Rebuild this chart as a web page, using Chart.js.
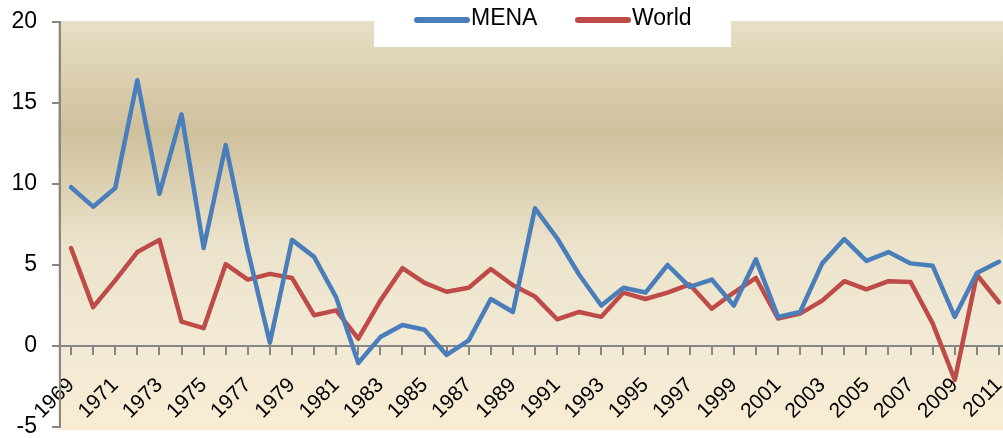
<!DOCTYPE html>
<html>
<head>
<meta charset="utf-8">
<script src="https://cdn.jsdelivr.net/npm/chart.js@4.4.1/dist/chart.umd.min.js"></script>
<style>
	html, body { margin: 0; padding: 0; background: #ffffff; overflow: hidden; }
	#wrap { position: relative; width: 1012px; height: 438px; }
</style>
</head>
<body>
<div id="wrap"><canvas id="growth" width="1012" height="438"></canvas></div>
<script>
// years on the x axis
const years = [];
for (let y = 1969; y <= 2011; y++) { years.push(String(y)); }

// annual growth
const menaValues = [
	9.8, 8.6, 9.75, 16.4, 9.4, 14.3, 6.05, 12.4, 5.9, 0.2,
	6.55, 5.5, 3.0, -1.05, 0.55, 1.3, 1.0, -0.55, 0.35, 2.9,
	2.1, 8.5, 6.65, 4.4, 2.5, 3.6, 3.3, 5.0, 3.65, 4.1,
	2.5, 5.35, 1.8, 2.1, 5.1, 6.6, 5.25, 5.8, 5.1, 4.95,
	1.8, 4.5, 5.2
];
const worldValues = [
	6.05, 2.4, 4.05, 5.8, 6.55, 1.5, 1.1, 5.05, 4.1, 4.45,
	4.2, 1.9, 2.2, 0.45, 2.8, 4.8, 3.9, 3.35, 3.6, 4.75,
	3.75, 3.05, 1.65, 2.1, 1.8, 3.3, 2.9, 3.3, 3.8, 2.3,
	3.3, 4.2, 1.7, 2.0, 2.8, 4.0, 3.5, 4.0, 3.95, 1.4,
	-2.1, 4.4, 2.7
];

const seriesLabels = ['MENA', 'World'];
const seriesColors = ['#4a7ebb', '#be4b48'];
const yTicks = [-5, 0, 5, 10, 15, 20];

const axisGray = '#868686';
const fontFamily = '"Liberation Sans", Arial, sans-serif';

// beige gradient behind the plot
const plotBackground = {
	id: 'plotBackground',
	beforeDraw(chart) {
		const { ctx, chartArea } = chart;
		const top = chartArea.top - 1;
		const bottom = chartArea.bottom + 3;
		const g = ctx.createLinearGradient(0, top, 0, bottom);
		g.addColorStop(0, '#e8dfc6');
		g.addColorStop(0.27, '#cfc09c');
		g.addColorStop(0.55, '#ebe3cb');
		g.addColorStop(0.8, '#f2ead5');
		g.addColorStop(1, '#f9ecd3');
		ctx.save();
		ctx.fillStyle = g;
		ctx.fillRect(chartArea.left - 2, top, chart.width - chartArea.left + 2, bottom - top);
		ctx.restore();
	}
};

// white legend box sitting over the top of the plot
const topLegend = {
	id: 'topLegend',
	beforeDatasetsDraw(chart) {
		const ctx = chart.ctx;
		ctx.save();
		ctx.fillStyle = '#ffffff';
		ctx.fillRect(374, 0, 357, 47);
		const starts = [416, 577];
		chart.data.datasets.forEach((ds, i) => {
			const x = starts[i];
			ctx.strokeStyle = ds.borderColor;
			ctx.lineWidth = 6;
			ctx.lineCap = 'round';
			ctx.beginPath();
			ctx.moveTo(x + 1, 20);
			ctx.lineTo(x + 51, 20);
			ctx.stroke();
			ctx.fillStyle = '#000000';
			ctx.font = '23px ' + fontFamily;
			ctx.textBaseline = 'middle';
			ctx.fillText(ds.label, x + 55, 19);
		});
		ctx.restore();
	}
};

const lineStyle = { borderWidth: 4.5, tension: 0, pointRadius: 0, borderJoinStyle: 'round', borderCapStyle: 'round' };

new Chart(document.getElementById('growth'), {
	type: 'line',
	data: {
		labels: years,
		datasets: [
			Object.assign({ label: seriesLabels[0], data: menaValues, borderColor: seriesColors[0] }, lineStyle),
			Object.assign({ label: seriesLabels[1], data: worldValues, borderColor: seriesColors[1] }, lineStyle)
		]
	},
	options: {
		responsive: false,
		animation: false,
		layout: { padding: { top: 22, bottom: 11, left: 0, right: 2 } },
		plugins: {
			legend: { display: false },
			tooltip: { enabled: false }
		},
		scales: {
			x: {
				type: 'category',
				offset: true,
				position: { y: 0 },
				grid: { drawOnChartArea: false, color: axisGray, lineWidth: 2, tickLength: 8 },
				border: { color: axisGray, width: 2 },
				ticks: {
					autoSkip: false,
					minRotation: 45,
					maxRotation: 45,
					padding: 19,
					color: '#000000',
					font: { family: fontFamily, size: 21 },
					callback: (v, i) => (i % 2 === 0 ? years[i] : '')
				},
				afterFit: (s) => { s.paddingLeft = 0; s.paddingRight = 0; }
			},
			y: {
				min: -5,
				max: 20,
				afterBuildTicks: (s) => { s.ticks = yTicks.map((v) => ({ value: v })); },
				grid: { drawOnChartArea: false, color: axisGray, lineWidth: 2, tickLength: 8 },
				border: { color: axisGray, width: 2 },
				ticks: {
					padding: 15,
					color: '#000000',
					font: { family: fontFamily, size: 23 }
				},
				afterFit: (s) => { s.width = 60; s.paddingTop = 0; s.paddingBottom = 0; }
			}
		}
	},
	plugins: [plotBackground, topLegend]
});
</script>
</body>
</html>
